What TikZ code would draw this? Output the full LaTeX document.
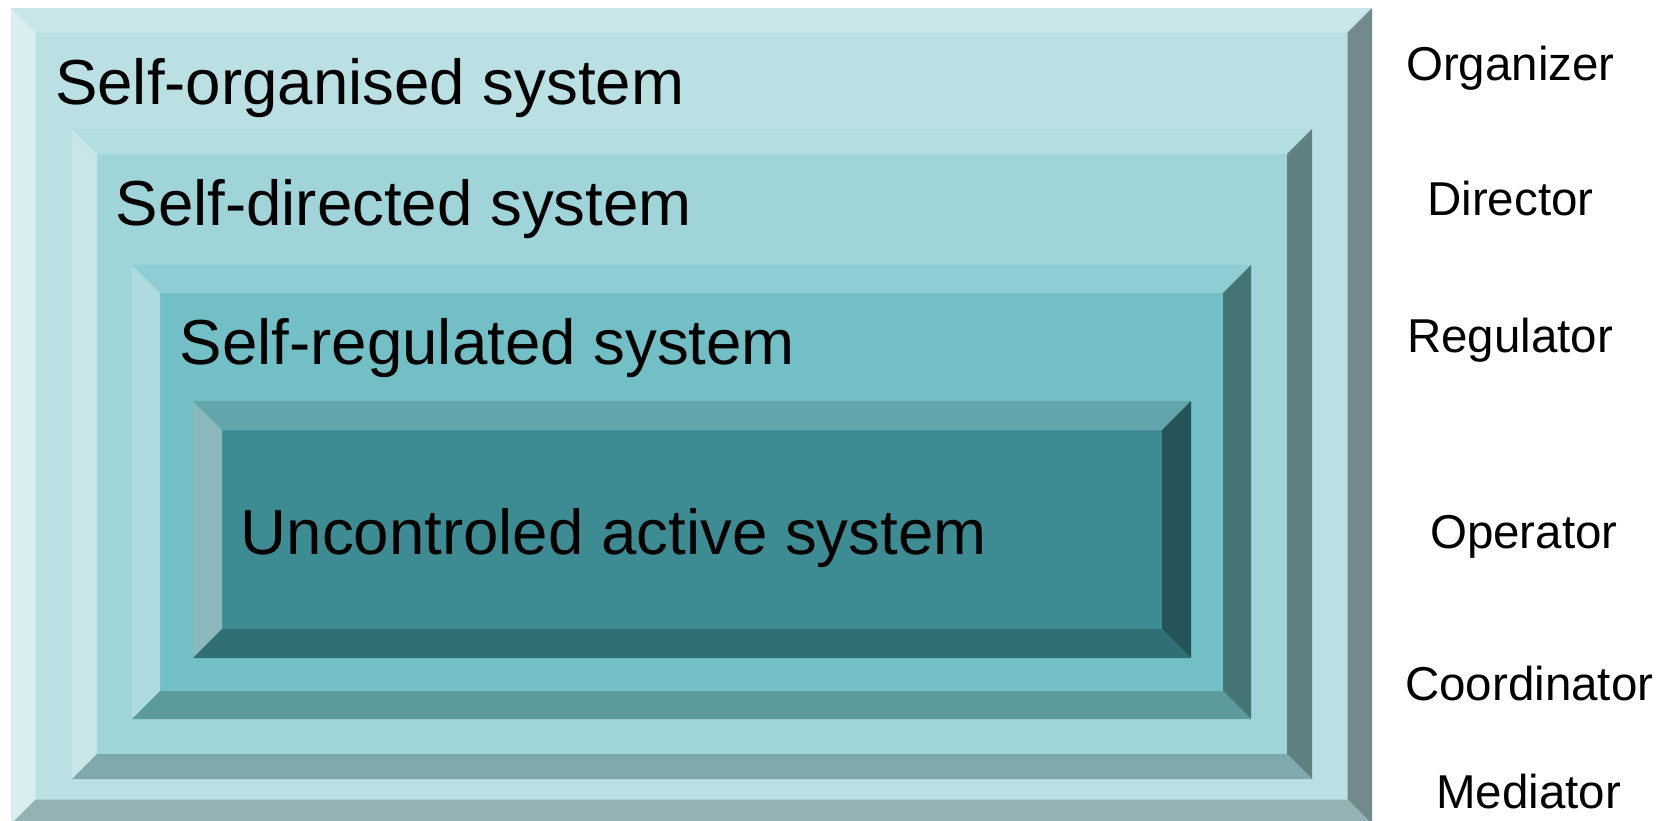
\documentclass[tikz,border=0pt]{standalone}
\usepackage{fontspec}
\setmainfont{Liberation Sans}

% bevel colours of the four nested boxes (outer to inner)
\definecolor{aface}{HTML}{BBE0E3}
\definecolor{atop}{HTML}{C8E6E9}
\definecolor{aleft}{HTML}{D9EEF0}
\definecolor{aright}{HTML}{728A8B}
\definecolor{abottom}{HTML}{95B1B4}

\definecolor{bface}{HTML}{9FD4D8}
\definecolor{btop}{HTML}{B2DDE1}
\definecolor{bleft}{HTML}{C8E5E8}
\definecolor{bright}{HTML}{5F7F80}
\definecolor{bbottom}{HTML}{7EAAAD}

\definecolor{cface}{HTML}{72C0C6}
\definecolor{ctop}{HTML}{8FCDD4}
\definecolor{cleft}{HTML}{ADDBE0}
\definecolor{cright}{HTML}{457475}
\definecolor{cbottom}{HTML}{5D9A9C}

\definecolor{dface}{HTML}{3E8C93}
\definecolor{dtop}{HTML}{62A5AA}
\definecolor{dleft}{HTML}{8BB8BB}
\definecolor{dright}{HTML}{245458}
\definecolor{dbottom}{HTML}{306F74}

% bevelled box: #1 colour prefix, (#2,#3) top-left, (#4,#5) bottom-right, #6 bevel width
\newcommand\bevelbox[6]{%
  \fill[#1face] (#2,#3) rectangle (#4,#5);
  \fill[#1top] (#2,#3) -- (#4,#3) -- ({#4-#6},{#3+#6}) -- ({#2+#6},{#3+#6}) -- cycle;
  \fill[#1left] (#2,#3) -- ({#2+#6},{#3+#6}) -- ({#2+#6},{#5-#6}) -- (#2,#5) -- cycle;
  \fill[#1right] (#4,#3) -- (#4,#5) -- ({#4-#6},{#5-#6}) -- ({#4-#6},{#3+#6}) -- cycle;
  \fill[#1bottom] (#2,#5) -- ({#2+#6},{#5-#6}) -- ({#4-#6},{#5-#6}) -- (#4,#5) -- cycle;
}

\tikzset{
  boxtext/.style={anchor=base west, inner sep=0pt, font=\fontsize{63.6}{70}\selectfont},
  roletext/.style={anchor=base west, inner sep=0pt, font=\fontsize{47.5}{52}\selectfont},
}

\begin{document}
\begin{tikzpicture}[x=1pt,y=-1pt]
  \useasboundingbox (0,0) rectangle (1677,820);
  \clip (0,0) rectangle (1677,820);

  \bevelbox{a}{11}{8}{1372}{824}{24.5}
  \bevelbox{b}{72}{129}{1312}{779}{25}
  \bevelbox{c}{132}{265}{1251}{719}{28}
  \bevelbox{d}{193}{401}{1191}{658}{29}

  \node[boxtext] (organised) at (55,104.8) {Self-organised system};
  \node[boxtext] (directed) at (115.5,225.7) {Self-directed system};
  \node[boxtext] (regulated) at (179.7,364.7) {Self-regulated system};
  \node[boxtext] (uncontroled) at (240.6,554) {Uncontroled active system};

  \node[roletext] (organizer) at (1406,80) {Organizer};
  \node[roletext] (director) at (1427,215) {Director};
  \node[roletext] (regulator) at (1407,352) {Regulator};
  \node[roletext] (operator) at (1430,548) {Operator};
  \node[roletext] (coordinator) at (1405,700) {Coordinator};
  \node[roletext] (mediator) at (1436,808) {Mediator};
\end{tikzpicture}
\end{document}
